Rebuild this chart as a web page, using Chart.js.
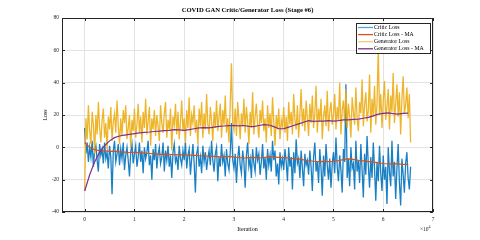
<!DOCTYPE html>
<html>
<head>
<meta charset="utf-8">
<script src="https://cdn.jsdelivr.net/npm/chart.js@4/dist/chart.umd.min.js"></script>
<style>
  html, body { margin: 0; padding: 0; background: #ffffff; }
  #wrap { width: 480px; height: 240px; position: relative; }
</style>
</head>
<body>
<div id="wrap"><canvas id="c" width="480" height="240"></canvas></div>
<script>
// ---- Data ----
const chartTitle = 'COVID GAN Critic/Generator Loss (Stage #6)';
const seriesNames = ['Critic Loss', 'Critic Loss - MA', 'Generator Loss', 'Generator Loss - MA'];
const xAxisLabel = 'Iteration';
const yAxisLabel = 'Loss';
const xTickValues = [0, 10000, 20000, 30000, 40000, 50000, 60000, 70000];
const yTickValues = [-40, -20, 0, 20, 40, 60, 80];

// raw losses sampled every 250 iterations (0 .. 65500), one row = 5000 iterations
const rawStep = 250;
const criticLoss = [
  12, -4, 3, -9, 0, -6, 4, -12, -2, 1, -8, -15, 2, -5, -1, -10, 3, -7, -3, -13,
  1, -6, -29, -2, 4, -9, -4, 2, -11, -1, -7, 3, -14, -5, 0, -8, -18, -3, 2, -10,
  -4, 1, -12, -6, 3, -9, -2, -16, 0, -7, -3, 4, -11, -5, -20, -1, -8, 2, -13, -4,
  0, -10, -6, 3, -15, -2, -8, 1, -12, -5, -19, -3, 2, -9, -6, -14, 1, -7, -11, -2,
  -8, 3, -13, -5, -1, -17, -7, 2, -10, -28, -4, 0, -12, -6, -16, 1, -9, -3, -14, -7,
  -2, -11, 4, -8, -15, -4, 0, -21, -6, -12, 2, -9, -5, -18, -1, -10, -14, -3, 15, -8,
  -13, -4, -22, -7, 1, -11, -16, -2, -9, -25, -5, 3, -12, -7, -19, -1, -10, -15, 0, -8,
  -4, -17, -9, 2, -13, -6, -20, -1, -11, -5, -15, 4, -8, -2, -18, -10, -23, -3, -12, -7,
  -14, -1, -9, -21, 0, -12, -6, -26, -3, -16, 5, -10, -7, -19, -2, -13, -24, -4, -11, -8,
  -17, -2, -12, -27, -6, 3, -15, -9, -22, -1, -13, -30, -5, -18, 2, -11, -20, -7, -25, -10,
  -3, -16, 6, -12, -21, -5, -14, -28, -1, -9, 39, -19, -7, -24, 0, -13, -10, -26, 4, -15,
  -8, -22, 2, -14, -31, -4, -17, 7, -11, -25, -6, -19, 3, -13, -33, -9, -21, 1, -16, -27,
  -5, -20, -12, -35, 0, -15, -24, 4, -18, -9, -32, -13, 2, -22, -36, -7, -17, -28, -10, -3,
  -19, -26, -12
];
const generatorLoss = [
  -27, 18, 5, 26, 10, 2, 22, 14, -4, 20, 8, 28, 12, 3, 17, 24, 6, 15, -1, 19,
  11, 25, 4, 16, 21, 9, 29, 13, 2, 18, 7, 23, 15, 26, 5, 12, 20, 0, 17, 10,
  24, 6, 14, 27, 9, 19, 3, 22, 12, 30, 8, 16, 25, 1, 18, 11, 23, 7, 20, 13,
  4, 26, 15, 9, 21, 28, 6, 17, 11, 24, -2, 19, 14, 27, 8, 22, 5, 16, 29, 10,
  18, 3, 23, 12, 31, 7, 20, 15, 26, 9, 17, 2, 24, 13, 28, 6, 21, 11, 33, 14,
  8, 25, 16, 4, 22, 12, 29, 10, 19, 27, 6, 23, 14, 32, 9, 18, 3, 26, 52, 15,
  11, 24, 7, 28, 17, 5, 21, 13, 30, 9, 25, 16, 2, 22, 12, 34, 8, 19, 27, 14,
  6, 23, 15, 29, 10, 18, 3, 26, 12, 21, 7, 31, 16, 1, 20, 11, 24, 5, 17, 13,
  25, 9, 19, 4, 28, 14, 22, 8, 33, 17, 11, 26, 6, 20, 36, 13, 24, 10, 29, 18,
  7, 27, 15, 32, 12, 21, 38, 9, 24, 16, 30, 5, 19, 26, 13, 35, 10, 22, 28, 14,
  20, 33, 11, 25, 17, 40, 8, 23, 29, 15, 36, 12, 27, 19, 6, 31, 22, 14, 37, 18,
  10, 28, 21, 42, 13, 26, 34, 16, 23, 45, 9, 30, 19, 38, 14, 27, 62, 20, 33, 12,
  29, 41, 17, 25, 36, 11, 32, 22, 46, 15, 27, 39, 19, 34, 8, 30, 44, 21, 26, 37,
  18, 33, 3
];

// moving averages sampled every 1000 iterations (0 .. 65000)
const maStep = 1000;
const criticMA = [
  3, 0, -1.5, -2, -2.2, -2.5, -2.4, -2.8, -3, -3.2,
  -3.1, -3.3, -3.6, -3.8, -4, -4.3, -4.2, -4.4, -4.6, -4.5,
  -4.7, -4.8, -5, -5.2, -5.3, -5.5, -5.6, -5.8, -5.9, -5.6,
  -6, -6.3, -6.6, -6.4, -6.2, -6.5, -6.3, -5.8, -6, -6.2,
  -6.4, -6.6, -7, -7.3, -7.8, -8.3, -8.6, -8.8, -8.7, -8.9,
  -8.6, -8.2, -7.6, -7.2, -7.5, -8, -8.4, -8.8, -9.2, -9.6,
  -10, -10.3, -10.1, -10.2, -10.5, -10.6
];
const generatorMA = [
  -27, -17, -9, -3, 1, 4, 6, 7, 7.5, 8,
  8.5, 9, 9.3, 9.5, 9.8, 10, 10.3, 10.5, 11, 10.8,
  10.5, 11, 11.5, 12, 12.2, 12, 12.5, 13, 13.2, 13.4,
  13.5, 13.3, 13.5, 13, 12.8, 13.5, 14, 13.8, 12.8, 11.5,
  11.5, 12.5, 13.5, 14.5, 15.5, 16.5, 16, 16.3, 16.2, 16.5,
  16.2, 16.5, 17, 17, 17.3, 17.5, 18, 18.5, 19.5, 20.5,
  21, 21.3, 20.8, 20.5, 21, 21.2
];

// ---- Build datasets ----
const toPoints = (arr, step) => arr.map((v, i) => ({ x: i * step, y: v }));

const colors = {
  critic: 'rgba(0,114,189,0.9)',
  criticLegend: 'rgba(77,166,224,1)',
  criticMA: '#D95319',
  gen: 'rgba(237,177,32,0.95)',
  genLegend: 'rgba(244,206,120,1)',
  genMA: '#7E2F8E'
};
const SERIF = '"Liberation Serif", "DejaVu Serif", serif';

const framePlugin = {
  id: 'frame',
  afterDatasetsDraw(chart) {
    const ctx = chart.ctx;
    const a = chart.chartArea;
    const xs = chart.scales.x, ys = chart.scales.y;
    ctx.save();
    // frame
    ctx.strokeStyle = '#262626';
    ctx.lineWidth = 1;
    ctx.strokeRect(Math.round(a.left) + 0.5, Math.round(a.top) + 0.5,
                   Math.round(a.right - a.left) - 1, Math.round(a.bottom - a.top) - 1);
    // inward tick marks
    const tl = 3;
    ctx.beginPath();
    xTickValues.forEach(v => {
      const px = Math.round(xs.getPixelForValue(v)) + 0.5;
      ctx.moveTo(px, a.bottom); ctx.lineTo(px, a.bottom - tl);
      ctx.moveTo(px, a.top); ctx.lineTo(px, a.top + tl);
    });
    yTickValues.forEach(v => {
      const py = Math.round(ys.getPixelForValue(v)) + 0.5;
      ctx.moveTo(a.left, py); ctx.lineTo(a.left + tl, py);
      ctx.moveTo(a.right, py); ctx.lineTo(a.right - tl, py);
    });
    ctx.stroke();

    // legend box
    const lx = 356, ly = 23, lw = 74, lh = 30;
    ctx.fillStyle = '#ffffff';
    ctx.fillRect(lx, ly, lw, lh);
    ctx.strokeStyle = '#262626';
    ctx.strokeRect(lx + 0.5, ly + 0.5, lw, lh);
    const legendColors = [colors.criticLegend, colors.criticMA, colors.genLegend, colors.genMA];
    ctx.font = '5.8px ' + SERIF;
    ctx.textBaseline = 'middle';
    ctx.textAlign = 'left';
    seriesNames.forEach((name, i) => {
      const ry = ly + 4.5 + i * 7.1;
      ctx.strokeStyle = legendColors[i];
      ctx.lineWidth = 1.3;
      ctx.beginPath();
      ctx.moveTo(lx + 2, ry); ctx.lineTo(lx + 17, ry);
      ctx.stroke();
      ctx.fillStyle = '#000000';
      ctx.fillText(name, lx + 18, ry);
    });

    // title
    ctx.fillStyle = '#000000';
    ctx.textAlign = 'center';
    ctx.textBaseline = 'middle';
    ctx.font = 'bold 6.6px ' + SERIF;
    ctx.fillText(chartTitle, (a.left + a.right) / 2, 10);

    // axis labels
    ctx.font = '6px ' + SERIF;
    ctx.fillText(xAxisLabel, (a.left + a.right) / 2, 229);
    ctx.save();
    ctx.translate(45, (a.top + a.bottom) / 2);
    ctx.rotate(-Math.PI / 2);
    ctx.fillText(yAxisLabel, 0, 0);
    ctx.restore();

    // exponent label
    ctx.textAlign = 'left';
    ctx.font = '5.5px ' + SERIF;
    ctx.fillStyle = '#262626';
    ctx.fillText('\u00d710', 420, 230);
    ctx.font = '4px ' + SERIF;
    ctx.fillText('4', 428.5, 227);
    ctx.restore();
  }
};

new Chart(document.getElementById('c'), {
  type: 'line',
  data: {
    datasets: [
      { label: seriesNames[0], data: toPoints(criticLoss, rawStep), borderColor: colors.critic,
        borderWidth: 1.3, pointRadius: 0, tension: 0, order: 4 },
      { label: seriesNames[1], data: toPoints(criticMA, maStep), borderColor: colors.criticMA,
        borderWidth: 1.2, pointRadius: 0, tension: 0, order: 2 },
      { label: seriesNames[2], data: toPoints(generatorLoss, rawStep), borderColor: colors.gen,
        borderWidth: 1.3, pointRadius: 0, tension: 0, order: 3 },
      { label: seriesNames[3], data: toPoints(generatorMA, maStep), borderColor: colors.genMA,
        borderWidth: 1.2, pointRadius: 0, tension: 0, order: 1 }
    ]
  },
  options: {
    responsive: false,
    animation: false,
    events: [],
    layout: { padding: { top: 18, right: 47, left: 0, bottom: 0 } },
    plugins: { legend: { display: false }, title: { display: false }, tooltip: { enabled: false } },
    scales: {
      x: {
        type: 'linear',
        min: -4560,
        max: 70000,
        afterBuildTicks: (scale) => { scale.ticks = xTickValues.map(v => ({ value: v })); },
        afterFit: (scale) => { scale.height = 28; },
        ticks: {
          color: '#262626',
          padding: 4,
          maxRotation: 0,
          autoSkip: false,
          font: { family: SERIF, size: 5.5 },
          callback: (v) => String(v / 10000)
        },
        grid: { color: '#e3e3e3', lineWidth: 1, drawTicks: false },
        border: { display: false }
      },
      y: {
        type: 'linear',
        min: -40,
        max: 80,
        afterBuildTicks: (scale) => { scale.ticks = yTickValues.map(v => ({ value: v })); },
        afterFit: (scale) => { scale.width = 62; },
        ticks: {
          color: '#262626',
          padding: 3,
          autoSkip: false,
          font: { family: SERIF, size: 5.5 },
          callback: (v) => String(v)
        },
        grid: { color: '#e3e3e3', lineWidth: 1, drawTicks: false },
        border: { display: false }
      }
    }
  },
  plugins: [framePlugin]
});
</script>
</body>
</html>
